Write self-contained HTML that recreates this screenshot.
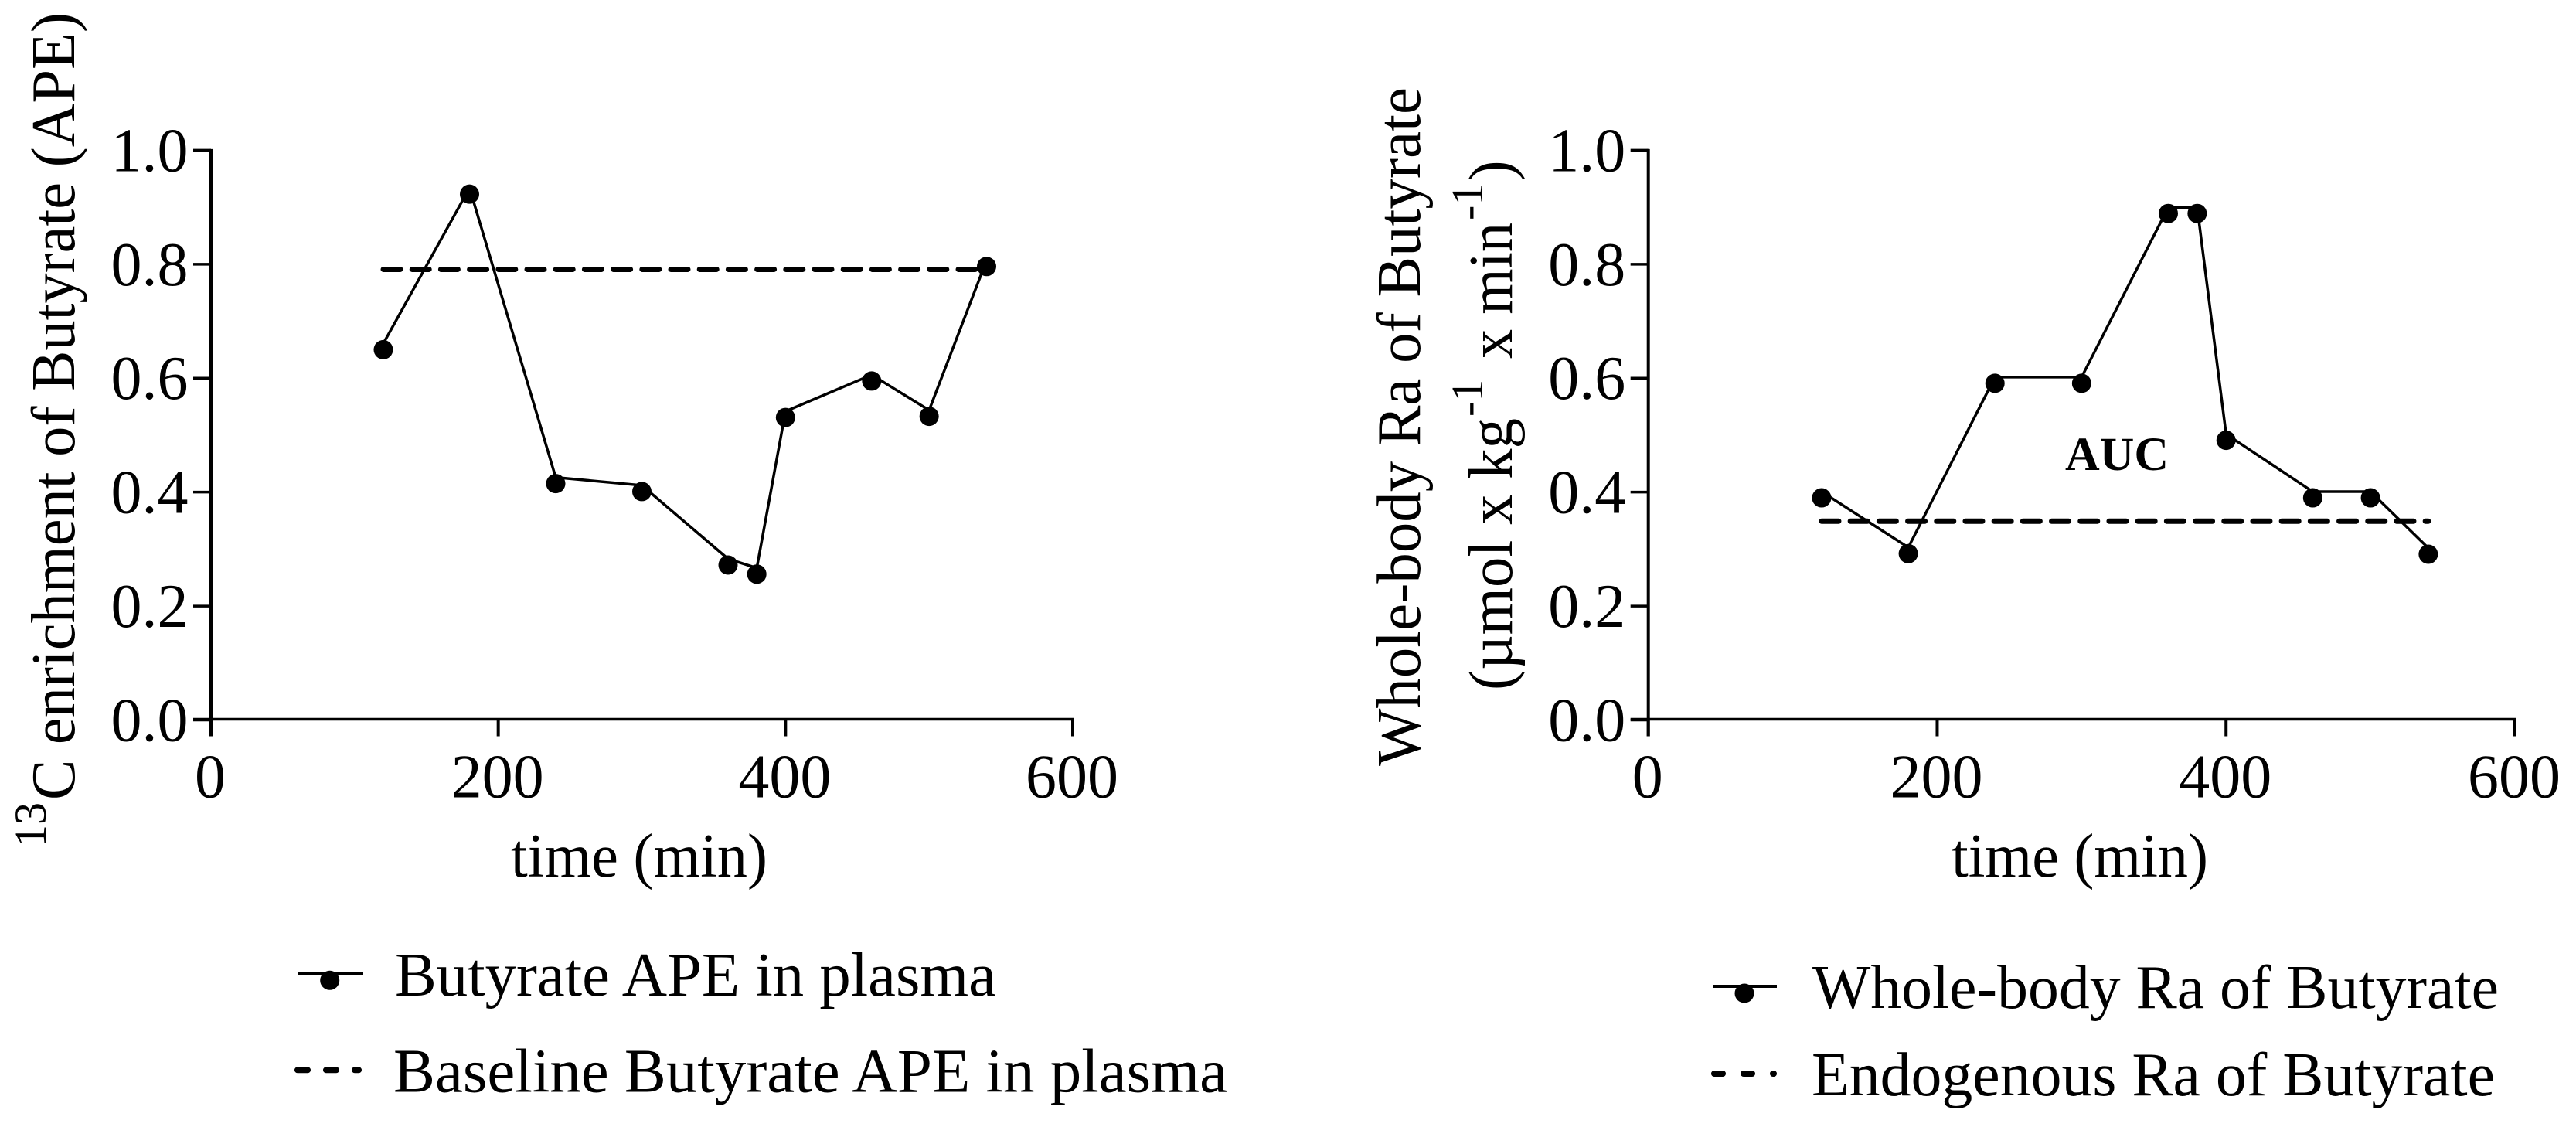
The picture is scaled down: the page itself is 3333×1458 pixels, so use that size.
<!DOCTYPE html>
<html lang="en">
<head>
<meta charset="utf-8">
<title>Butyrate enrichment and whole-body Ra</title>
<style>
html,body{margin:0;padding:0;background:#fff;}
body{width:3333px;height:1458px;overflow:hidden;}
svg{display:block;}
text{font-family:"Liberation Serif","Times New Roman",serif;fill:#000;font-size:80px;}
</style>
</head>
<body>
<svg id="figure" xmlns="http://www.w3.org/2000/svg" width="3333" height="1458" viewBox="0 0 3333 1458">
  <rect x="0" y="0" width="3333" height="1458" fill="#fff"/>

  <g id="chart-left"></g>
  <g id="chart-right"></g>

  <text transform="translate(59,1096) rotate(-90)" style="font-size:58px">13</text>
  <text transform="translate(96,1035) rotate(-90)" textLength="1019" lengthAdjust="spacingAndGlyphs">C enrichment of Butyrate (APE)</text>
  <text x="827" y="1134" text-anchor="middle" textLength="332" lengthAdjust="spacingAndGlyphs">time (min)</text>

  <text transform="translate(1837,991) rotate(-90)" textLength="878" lengthAdjust="spacingAndGlyphs">Whole-body Ra of Butyrate</text>
  <text transform="translate(1956,893) rotate(-90)" textLength="352" lengthAdjust="spacingAndGlyphs">(µmol x kg</text>
  <text transform="translate(1918,539) rotate(-90)" style="font-size:58px">-1</text>
  <text transform="translate(1956,464) rotate(-90)" textLength="176" lengthAdjust="spacingAndGlyphs">x min</text>
  <text transform="translate(1918,285) rotate(-90)" style="font-size:58px">-1</text>
  <text transform="translate(1956,234) rotate(-90)">)</text>
  <text x="2691" y="1134" text-anchor="middle" textLength="332" lengthAdjust="spacingAndGlyphs">time (min)</text>
  <text x="2672" y="608" style="font-size:61px;font-weight:bold" textLength="134" lengthAdjust="spacingAndGlyphs">AUC</text>

  <g>
    <g>
      <line x1="385" y1="1260" x2="470" y2="1260" stroke="#000" stroke-width="4"/>
      <circle cx="426.7" cy="1268.3" r="12.5" fill="#000"/>
      <text x="511" y="1288" textLength="778" lengthAdjust="spacingAndGlyphs">Butyrate APE in plasma</text>
    </g>
    <g>
      <line x1="385" y1="1384.3" x2="464" y2="1384.3" stroke="#000" stroke-width="8" stroke-linecap="round" stroke-dasharray="13 24"/>
      <text x="509" y="1412.5" textLength="1079" lengthAdjust="spacingAndGlyphs">Baseline Butyrate APE in plasma</text>
    </g>
  </g>
  <g>
    <g>
      <line x1="2216" y1="1276" x2="2299" y2="1276" stroke="#000" stroke-width="4"/>
      <circle cx="2257" cy="1285" r="12.5" fill="#000"/>
      <text x="2345" y="1304" textLength="888" lengthAdjust="spacingAndGlyphs">Whole-body Ra of Butyrate</text>
    </g>
    <g>
      <line x1="2218" y1="1389" x2="2295" y2="1389" stroke="#000" stroke-width="8" stroke-linecap="round" stroke-dasharray="11 27"/>
      <text x="2344" y="1417" textLength="884" lengthAdjust="spacingAndGlyphs">Endogenous Ra of Butyrate</text>
    </g>
  </g>
</svg>

<script>
var xTicks = [0, 200, 400, 600];
var yTicks = [0.0, 0.2, 0.4, 0.6, 0.8, 1.0];
var timePoints = [120, 180, 240, 300, 360, 380, 400, 460, 500, 540];
var butyrateApe = [0.65, 0.923, 0.415, 0.401, 0.272, 0.256, 0.531, 0.595, 0.533, 0.796];
var baselineApe = [0.791, 0.791];
var wholeBodyRa = [0.39, 0.292, 0.591, 0.591, 0.889, 0.889, 0.491, 0.39, 0.39, 0.291];
var endogenousRa = [0.349, 0.349];
var baselineTimes = [120, 540];

var SVGNS = 'http://www.w3.org/2000/svg';

function make(parent, tag, attrs) {
  var el = document.createElementNS(SVGNS, tag);
  for (var k in attrs) { el.setAttribute(k, attrs[k]); }
  parent.appendChild(el);
  return el;
}

function drawChart(root, frame, series, dashed) {
  function xScale(v) { return frame.left + (v / 600) * (frame.right - frame.left); }
  function yScale(v) { return frame.bottom - v * (frame.bottom - frame.top); }
  var lineLift = 8;

  var yAxis = make(root, 'line', {x1: frame.left, y1: frame.top - 1.5, x2: frame.left, y2: frame.bottom + 21, stroke: '#000', 'stroke-width': 4});
  
  
  var xAxis = make(root, 'line', {x1: frame.left - 23, y1: frame.bottom - 1, x2: frame.right + 2, y2: frame.bottom - 1, stroke: '#000', 'stroke-width': 3.5});
  
  

  yTicks.forEach(function (t) {
    var tick = make(root, 'line', {x1: frame.left - 23, y1: yScale(t), x2: frame.left, y2: yScale(t), stroke: '#000', 'stroke-width': 3.5});
    
    
    var label = make(root, 'text', {x: frame.left - 29.5, y: yScale(t) + 27, 'text-anchor': 'end'});
    
    
    label.textContent = t.toFixed(1);
  });

  xTicks.forEach(function (t) {
    var tick = make(root, 'line', {x1: xScale(t), y1: frame.bottom - 1, x2: xScale(t), y2: frame.bottom + 21, stroke: '#000', 'stroke-width': 4});
    
    
    var label = make(root, 'text', {x: xScale(t) - 1, y: frame.bottom + 100, 'text-anchor': 'middle'});
    
    
    label.textContent = String(t);
  });

  var pts = timePoints.map(function (t, i) { return xScale(t) + ',' + (yScale(series[i]) - lineLift); }).join(' ');
  var line = make(root, 'polyline', {points: pts, fill: 'none', stroke: '#000', 'stroke-width': 3.5});
  
  

  var dash = make(root, 'line', {
    x1: xScale(baselineTimes[0]), y1: yScale(dashed[0]),
    x2: xScale(baselineTimes[1]), y2: yScale(dashed[1]),
    stroke: '#000', 'stroke-width': 7, 'stroke-linecap': 'round', 'stroke-dasharray': '22 15.2'
  });
  
  

  timePoints.forEach(function (t, i) {
    var dot = make(root, 'circle', {cx: xScale(t), cy: yScale(series[i]), r: 12.5, fill: '#000'});
    
    
  });
}

drawChart(document.getElementById('chart-left'), {left: 273, right: 1388, top: 194.4, bottom: 931.5}, butyrateApe, baselineApe);
drawChart(document.getElementById('chart-right'), {left: 2132.7, right: 3254, top: 194.4, bottom: 931.5}, wholeBodyRa, endogenousRa);
</script>
</body>
</html>
